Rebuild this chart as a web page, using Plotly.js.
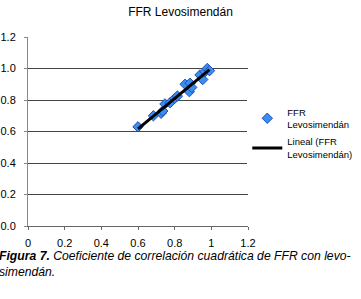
<!DOCTYPE html>
<html><head><meta charset="utf-8">
<script src="https://cdn.plot.ly/plotly-3.0.1.min.js"></script>
<style>html,body{margin:0;padding:0;background:#fff}#c{width:361px;height:299px}</style>
</head><body><div id="c"></div>
<script>
const ffrX = [0.60, 0.684, 0.726, 0.735, 0.747, 0.775, 0.80, 0.815, 0.857, 0.884, 0.88, 0.893, 0.938, 0.953, 0.966, 0.978, 0.99];
const ffrY = [0.63, 0.70, 0.716, 0.73, 0.775, 0.783, 0.81, 0.825, 0.90, 0.906, 0.853, 0.88, 0.959, 0.93, 0.98, 1.00, 0.986];
const xTicks = [0, 0.2, 0.4, 0.6, 0.8, 1, 1.2];
const yTicks = [0, 0.2, 0.4, 0.6, 0.8, 1.0, 1.2];
const seriesName = 'FFR<br>Levosimendán';
const trendName = 'Lineal (FFR<br>Levosimendán)';

// least-squares trendline from the data
const n = ffrX.length;
const mx = ffrX.reduce((a,b)=>a+b,0)/n, my = ffrY.reduce((a,b)=>a+b,0)/n;
let sxy=0, sxx=0;
for (let i=0;i<n;i++){ sxy += (ffrX[i]-mx)*(ffrY[i]-my); sxx += (ffrX[i]-mx)**2; }
const slope = sxy/sxx, icpt = my - slope*mx;
const lx = [Math.min(...ffrX), Math.max(...ffrX)];
const ly = lx.map(v => icpt + slope*v);

const font = 'Liberation Sans, Arial, sans-serif';
const data = [
  {x: ffrX, y: ffrY, type:'scatter', mode:'markers', name: seriesName, legendgroup:'a',
   marker:{symbol:'diamond', size:8, color:'#3a8ef0', line:{color:'#1d4fb8', width:1}}},
  {x: lx, y: ly, type:'scatter', mode:'lines', name: trendName, legendgroup:'b',
   line:{color:'#000', width:3}}
];
const layout = {
  width:361, height:299,
  margin:{l:28, r:113, t:37, b:73, autoexpand:false},
  paper_bgcolor:'#fff', plot_bgcolor:'#fff',
  font:{family:font, size:11, color:'#000'},
  title:{text:'FFR Levosimendán', x:0.5, xref:'container', xanchor:'center', y:0.96, yref:'container', yanchor:'middle', font:{family:font, size:12, color:'#000'}},
  xaxis:{range:[0,1.2], tickvals:xTicks, ticktext:xTicks.map(String), showgrid:false, zeroline:false,
         showline:true, linecolor:'#666', linewidth:1, ticks:'outside', ticklen:3, tickcolor:'#666',
         tickfont:{size:11}, ticklabelstandoff:4, fixedrange:true, automargin:false},
  yaxis:{range:[0,1.2], tickvals:yTicks, ticktext:yTicks.map(v=>v.toFixed(1)), showgrid:true, gridcolor:'#444', gridwidth:1,
         zeroline:false, showline:true, linecolor:'#888', linewidth:1, ticks:'outside', ticklen:3, tickcolor:'#888',
         tickfont:{size:11}, ticklabelstandoff:6, fixedrange:true, automargin:false},
  showlegend:true,
  legend:{xref:'container', x:0.685, xanchor:'left', y:0.49, yanchor:'middle', font:{family:font, size:9.5}, tracegroupgap:2, itemwidth:30},
  annotations:[{xref:'paper', yref:'paper', x:-0.14, y:-0.11, xanchor:'left', yanchor:'top', align:'left', showarrow:false,
    text:'<b><i>Figura 7.</i></b><i> Coeficiente de correlación cuadrática de FFR con levo-</i><br><i>simendán.</i>',
    font:{family:font, size:12.2, color:'#000'}}]
};
Plotly.newPlot('c', data, layout, {displayModeBar:false, staticPlot:true});
</script></body></html>
